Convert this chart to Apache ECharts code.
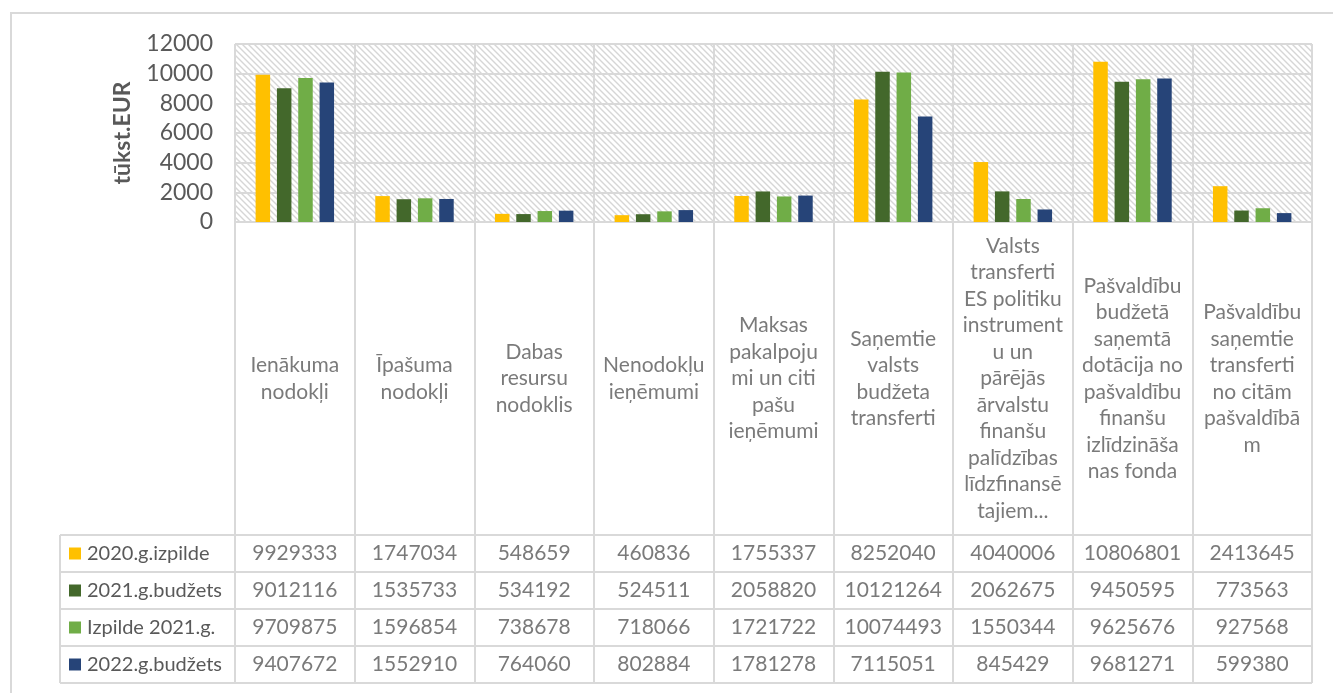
<!DOCTYPE html>
<html>
<head>
<meta charset="utf-8">
<script src="https://cdn.jsdelivr.net/npm/echarts@6/dist/echarts.min.js"></script>
<style>
html, body { margin: 0; padding: 0; background: #fff; }
#chart { width: 1333px; height: 693px; }
</style>
</head>
<body>
<div id="chart"></div>
<script>
// kategoriju nosaukumi (ar rindu pārnesumiem kā attēlā)
const categories = [
  'Ienākuma\nnodokļi',
  'Īpašuma\nnodokļi',
  'Dabas\nresursu\nnodoklis',
  'Nenodokļu\nieņēmumi',
  'Maksas\npakalpoju\nmi un citi\npašu\nieņēmumi',
  'Saņemtie\nvalsts\nbudžeta\ntransferti',
  'Valsts\ntransferti\nES politiku\ninstrument\nu un\npārējās\nārvalstu\nfinanšu\npalīdzības\nlīdzfinansē\ntajiem...',
  'Pašvaldību\nbudžetā\nsaņemtā\ndotācija no\npašvaldību\nfinanšu\nizlīdzināša\nnas fonda',
  'Pašvaldību\nsaņemtie\ntransferti\nno citām\npašvaldībā\nm'
]
const seriesNames = ['2020.g.izpilde', '2021.g.budžets', 'Izpilde 2021.g.', '2022.g.budžets']
const izpilde2020 = [9929333, 1747034, 548659, 460836, 1755337, 8252040, 4040006, 10806801, 2413645]
const budzets2021 = [9012116, 1535733, 534192, 524511, 2058820, 10121264, 2062675, 9450595, 773563]
const izpilde2021 = [9709875, 1596854, 738678, 718066, 1721722, 10074493, 1550344, 9625676, 927568]
const budzets2022 = [9407672, 1552910, 764060, 802884, 1781278, 7115051, 845429, 9681271, 599380]
const yTicks = [0, 2000, 4000, 6000, 8000, 10000, 12000]

const allValues = [izpilde2020, budzets2021, izpilde2021, budzets2022]
const colors = ['#FFC000', '#43682B', '#70AD47', '#264478']
const lineColor = '#d9d9d9'
const textColor = '#595959'
const font = 'Lato, "Open Sans", sans-serif'

// svītrots fons zīmēšanas laukumam
function hatch () {
  const c = document.createElement('canvas')
  c.width = 6
  c.height = 6
  const ctx = c.getContext('2d')
  ctx.fillStyle = '#ffffff'
  ctx.fillRect(0, 0, 6, 6)
  ctx.strokeStyle = '#d6d6d6'
  ctx.lineWidth = 1.4
  ctx.beginPath()
  ctx.moveTo(-1, -1); ctx.lineTo(7, 7)
  ctx.moveTo(-1, 5); ctx.lineTo(1, 7)
  ctx.moveTo(5, -1); ctx.lineTo(7, 1)
  ctx.stroke()
  return { image: c, repeat: 'repeat' }
}

const chart = echarts.init(document.getElementById('chart'))
const split = { show: true, interval: 0, lineStyle: { color: lineColor, width: 2 } }
const hidden = { show: false }

const rich = { t: { fontSize: 20, color: textColor, fontFamily: font, padding: [0, 0, 0, 6] } }
colors.forEach((c, i) => {
  rich['s' + i] = { width: 12, height: 12, backgroundColor: c }
})

const series = []
allValues.forEach((vals, i) => {
  series.push({
    name: seriesNames[i],
    type: 'bar',
    xAxisIndex: 0,
    yAxisIndex: 0,
    data: vals.map(v => v / 1000),
    barWidth: 14.5,
    barGap: '47%',
    itemStyle: { color: colors[i] },
    silent: true
  })
  series.push({
    type: 'scatter',
    xAxisIndex: 2,
    yAxisIndex: 2,
    symbolSize: 0,
    silent: true,
    data: vals.map((v, j) => [j, i, v]),
    label: {
      show: true,
      position: 'inside',
      formatter: p => String(p.value[2]),
      fontSize: 21,
      color: textColor,
      fontFamily: font
    }
  })
})
series.push({
  type: 'scatter',
  xAxisIndex: 1,
  yAxisIndex: 1,
  symbolSize: 0,
  silent: true,
  data: categories.map((c, i) => [i, 0.5]),
  label: {
    show: true,
    position: 'inside',
    formatter: p => categories[p.dataIndex],
    fontSize: 21,
    lineHeight: 26.5,
    align: 'center',
    color: textColor,
    fontFamily: font
  }
})

const option = {
  backgroundColor: '#fff',
  animation: false,
  graphic: [{
    type: 'rect',
    shape: { x: 11, y: 13, width: 1400, height: 800 },
    style: { fill: 'none', stroke: lineColor, lineWidth: 2 }
  }],
  grid: [
    { left: 235, right: 21, top: 44, height: 178, show: true, borderWidth: 0, backgroundColor: hatch() },
    { left: 235, right: 21, top: 222, height: 313 },
    { left: 235, right: 21, top: 535, height: 148 },
    { left: 60, width: 175, top: 535, height: 148 }
  ],
  xAxis: [
    { type: 'category', gridIndex: 0, data: categories, axisLine: hidden, axisTick: hidden, axisLabel: hidden, splitLine: split },
    { type: 'category', gridIndex: 1, data: categories, axisLine: hidden, axisTick: hidden, axisLabel: hidden, splitLine: split },
    { type: 'category', gridIndex: 2, data: categories, axisLine: hidden, axisTick: hidden, axisLabel: hidden, splitLine: split },
    { type: 'category', gridIndex: 3, data: ['x'], axisLine: hidden, axisTick: hidden, axisLabel: hidden, splitLine: split }
  ],
  yAxis: [
    {
      type: 'value',
      gridIndex: 0,
      min: yTicks[0],
      max: yTicks[yTicks.length - 1],
      interval: 2000,
      name: 'tūkst.EUR',
      nameLocation: 'middle',
      nameGap: 101,
      nameTextStyle: { fontSize: 23, fontWeight: 'bold', color: textColor, fontFamily: font },
      axisLine: hidden,
      axisTick: hidden,
      axisLabel: { fontSize: 23, color: textColor, fontFamily: font, margin: 22, formatter: v => String(v) },
      splitLine: { show: true, lineStyle: { color: lineColor, width: 2 } }
    },
    { type: 'value', gridIndex: 1, min: 0, max: 1, show: false },
    { type: 'category', gridIndex: 2, data: seriesNames, inverse: true, axisLine: hidden, axisTick: hidden, axisLabel: hidden, splitLine: split },
    {
      type: 'category',
      gridIndex: 3,
      data: seriesNames,
      inverse: true,
      axisLine: hidden,
      axisTick: hidden,
      splitLine: split,
      axisLabel: {
        inside: true,
        margin: 9,
        formatter: (v, i) => '{s' + i + '|}{t|' + v + '}',
        rich: rich
      }
    }
  ],
  series: series
}
chart.setOption(option)
window.addEventListener('resize', () => {
  chart.resize()
})
</script>
</body>
</html>
